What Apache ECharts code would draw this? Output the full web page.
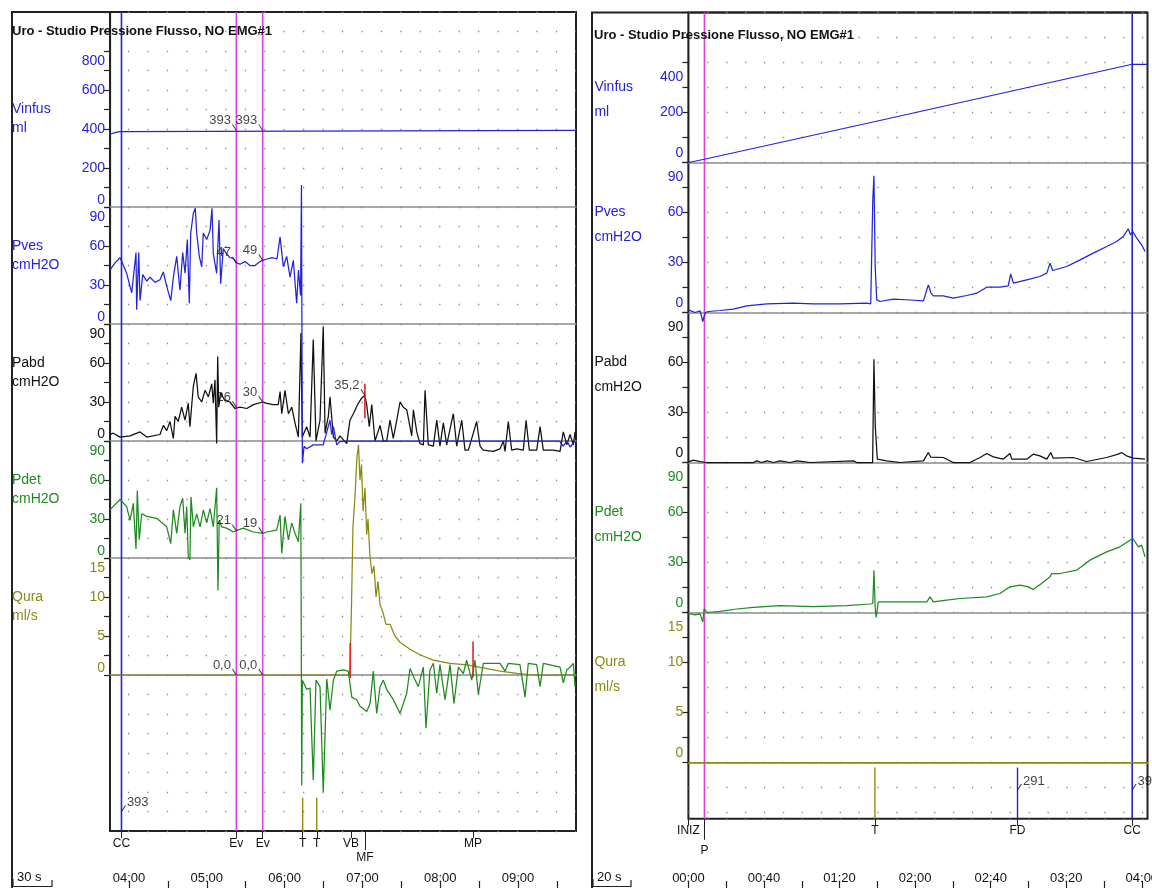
<!DOCTYPE html>
<html><head><meta charset="utf-8">
<script src="https://cdn.jsdelivr.net/npm/echarts@6/dist/echarts.min.js"></script>
<style>html,body{margin:0;padding:0;background:#fff}#c{width:1152px;height:888px}</style>
</head><body><div id="c"></div>
<script>
// ---------------- DATA ----------------
const titleText = 'Uro - Studio Pressione Flusso, NO EMG#1';
const channelNames = ['Vinfus\nml', 'Pves\ncmH2O', 'Pabd\ncmH2O', 'Pdet\ncmH2O', 'Qura\nml/s'];

// Left panel (time in seconds)
const L_vinfus = [[225.3,373],[229.2,381],[232.5,386],[233.6,393],[584.7,393]];
const L_pves = [[225.3,41.5],[229.2,47],[233.1,51],[234.4,48],[238.2,39],[242.1,24],[245.4,55],[245.9,11],[247.5,55],[248.5,18],[250.6,38],[253.7,33],[256.2,36],[260.1,32],[263.9,34],[266.5,40],[269.1,29],[272.2,18],[274.2,36],[276.8,52],[279.3,26],[281.4,55],[283.2,39],[285,65],[286.5,16],[287.6,70],[289.6,85],[291.1,89],[292.2,70],[294.2,52],[296.1,44],[297.3,70],[299.9,65],[302.5,72],[304,89],[305,54],[307.6,39],[309.4,80],[310.7,31],[312.7,58],[315.3,54],[317.9,51],[320.4,50.5],[322.8,47],[325.6,46],[329.5,48],[333.3,45],[337.2,45],[341,48],[343.1,49],[346.4,50],[350.3,51],[354.1,50],[356.5,67],[359,44],[361.6,52],[364.2,36],[366.7,49],[369.3,16],[370.7,41.5],[372.3,22],[373,107],[373.7,-107],[375,-94],[377,-96],[382.1,-93],[389.8,-93],[395,-74],[396.3,-85],[397.6,-79],[400.2,-93],[402.7,-90.5],[407.9,-90],[572,-90],[574.7,-94],[577.8,-90],[580.1,-94.6],[584,-90]];
const L_pabd = [[225.3,5],[227.9,6],[233.1,3],[234.4,3],[240.8,4],[248.5,7],[253.7,3],[263.9,5],[266.5,12],[269.1,8],[271.6,15],[274.2,2],[275.5,19],[278,15],[280.6,26],[283.2,16],[285.7,29],[287,11],[289.6,42],[291.7,52],[293.4,34],[296.1,30],[298.6,39],[301.2,34],[303.8,44],[305,29],[306.3,47],[307.6,-2],[308.4,65],[309.2,26],[310.7,37],[314,31],[317.9,30],[321.7,25],[322.8,26],[325.6,26],[330.8,25],[335.9,28],[343.1,30],[346.2,29],[351.3,28],[355.1,28],[356.5,38],[357.8,21],[360.3,39],[362.9,21],[365.5,26],[368,14],[370.6,3],[372.6,83],[373.6,3],[377,11],[379.6,3],[382.1,78],[384.2,0],[387.3,16],[389.8,88],[391.2,6],[393.7,19],[395,34],[397.6,3],[400.2,0],[402.7,4],[407.9,-2],[410.4,16],[413,21],[416.8,29],[419.4,33],[421.9,35],[423.3,28],[425.3,11],[427.2,28],[429.7,0],[433.6,12],[436.1,0],[438.7,0],[441.3,16],[443.8,2],[446.5,16],[449,30],[451.5,26],[454.2,24],[458,4],[459.3,24],[461.9,7],[464.4,-2],[467,-3],[468.3,39],[470.8,-3],[474.7,-4],[477.3,16],[479.8,-4],[482.4,14],[485,-3],[490.1,21],[492.7,-4],[496.6,16],[499.1,-7],[501.7,-7],[508.1,15],[510.7,-4],[513.2,-7],[520.9,-8],[526.1,-6],[528.7,0],[530,-8],[532.5,15],[535.1,-7],[539,-6],[544.1,-7],[546.2,16],[548.7,-7],[554.4,-7],[557,11],[559.5,-7],[567.2,-7],[572.4,-8],[574.9,7],[577.6,-3],[580.1,5],[582.6,-3],[584,7]];
const L_pdet = [[225.3,37],[233.1,45],[234.4,45],[238.2,39.5],[240.8,29],[243.3,42],[245.4,7],[246.4,52],[247.9,14],[249.8,34],[253.7,32],[261.4,30.5],[269.1,24],[272.2,11],[274.2,37],[276.8,19],[279.3,39.5],[281.4,46],[283.2,19],[284.5,39.5],[285.7,1],[287,-1.5],[287.8,47],[289.6,24],[292.2,34],[294.8,24],[297.3,37],[299.9,27],[302.5,38],[305,24],[307.6,54],[308.6,-25],[309.6,29],[311.5,24],[315.3,23],[320.4,20],[322.8,21],[328.1,23],[335.9,20],[343.1,19],[346.2,20],[353.9,21.5],[356.5,33],[357.8,3.6],[360.3,32],[362.9,14],[365.5,27],[368,19],[370.6,12.5],[372.5,42],[373.2,-175],[373.7,-94],[377,-101],[379.6,-100],[382.1,-171],[384.2,-94],[387.3,-99],[389.8,-180],[392.5,-93],[395,-117],[397.6,-94],[400.2,-87],[405.3,-86],[409.1,-87],[411.8,-107],[415.6,-109],[418.1,-114],[423.3,-118],[425.9,-112],[428.4,-87],[431,-119.5],[433.6,-99],[436.1,-94],[438.7,-101],[443.8,-109],[449,-119.5],[454.2,-104],[456.7,-85],[459.3,-91],[463.1,-99],[467,-84],[469,-131],[472.1,-86],[474.7,-81],[477.3,-104],[479.8,-82],[483.7,-109],[487.6,-82],[490.6,-112],[494,-84],[497.8,-89],[500.4,-78.5],[504.3,-94],[506.8,-78.5],[509.4,-105],[513.2,-81],[526.1,-81],[530,-87],[532.5,-81],[541.5,-82],[545.4,-107],[547.9,-81],[554.4,-82],[557,-99],[559.5,-81],[572.4,-84],[574.9,-96],[577.6,-86],[580.1,-84],[582.6,-81],[584,-99]];
const L_qura = [[225.3,0],[409.7,0],[410.4,0.5],[411.6,9],[412.7,19],[414.3,23],[415.8,28],[417,29.5],[418.1,25],[419.3,27],[420.5,21],[422,24],[423.3,18],[424.3,20],[425.9,15],[427.4,13],[428.9,14],[430.5,10],[432,12],[433.6,9],[435.9,8],[438.2,6.5],[441.3,6.5],[445.1,5],[449,4.2],[456.7,3.3],[464.4,2.6],[474.4,1.9],[487.6,1.5],[500.7,1.3],[513,0.9],[526.1,0.5],[539.2,0.2],[551.6,0],[584.7,0]];

const L_evTimes = [234.2, 322.8, 343.1, 373.9, 384.8, 411.2, 505.3];
const L_evNames = ['CC', 'Ev', 'Ev', 'T', 'T', 'VB', 'MP'];
const L_evLowTimes = [421.9];
const L_evLowNames = ['MF'];
const L_timeTicks = [240,270,300,330,360,390,420,450,480,510,540,570];
const L_timeLabels = [240,300,360,420,480,540];
// annotations at the two "Evento Generico" events
const L_annTimes = [322.8, 343.1];
const L_annVinfus = [393, 393];
const L_annPves = [47, 49];
const L_annPabd = [26, 30];
const L_annPdet = [21, 19];
const L_annQura = [0.0, 0.0];
const L_mfPabd = [421.9, 35.2];
const L_ccVinfus = [234.2, 393];
const L_redQura = [[410.6, 4.1, -0.4], [505.3, 4.3, -0.3]];
const L_redPabd = [[421.9, 44, 17.5]];

// Right panel
const R_vinfus = [[0,0],[8.4,13],[101.3,168],[174.2,291],[234.9,393],[243,393]];
const R_pves = [[0,1.6],[3.5,0],[6.2,1],[7.6,-5.4],[8.9,0],[10.6,0.6],[16.8,1.2],[23.8,2],[30.9,4],[41.5,5.2],[55.5,5.6],[66.1,5.2],[80.3,5.2],[94.4,5.6],[96.5,5.2],[97.6,67.6],[98.2,82],[98.9,26.6],[99.7,7.6],[101.4,6.6],[108.5,8],[117.3,7.5],[124.4,7],[127,16.6],[128.3,12],[129.6,10],[134.9,10],[140.2,8.6],[147.3,10.2],[152.6,11.6],[157.9,15.2],[164.9,15.2],[169.3,16],[170.6,23.2],[172,17.6],[179.1,19.6],[186,21.6],[189.7,23.6],[191.4,29.6],[192.8,25.2],[200.2,27.6],[207.3,31.6],[214.3,35.6],[221.4,39.6],[226.7,42.6],[230.1,45.6],[232.8,50.2],[234,46.6],[235.2,48.6],[237.3,44.6],[239.9,40.6],[241.7,36.6]];
const R_pabd = [[0,0.4],[2.6,1.4],[6.2,0.5],[9.8,0],[34.4,0],[36.2,1],[38.8,0],[41.5,1],[45,0],[48.5,1],[53.8,0],[57.4,1],[60.9,0.5],[64.4,0],[87.3,1],[89.1,0],[97.5,0],[98.2,62],[98.9,22],[100,2],[104.9,1],[112,0],[124.4,1],[127,6],[128.3,3.2],[134.9,3],[140.2,0],[149,0],[154.4,3],[157.9,5.4],[161.4,3.4],[166.6,2],[170.2,5.4],[171.2,2],[179.1,2],[182.5,5],[186,4],[189.7,2],[191.8,6],[193.1,2.6],[203.6,3],[210.8,0.6],[221.4,3],[227.5,5],[229.3,6],[231.9,4],[235.5,2.6],[241.7,2]];
const R_pdet = [[0,-0.6],[3.5,-1.4],[6.2,-0.8],[7.6,-5.6],[8.4,2.4],[9.8,0],[16.8,0.7],[25.7,2.1],[34.4,3.1],[48.5,4.1],[66.1,3.5],[83.8,4.1],[96.2,5.1],[97.6,5.4],[98.2,25.4],[98.9,2.4],[99.4,-3],[100.5,6.4],[108.5,6.4],[115.5,6.4],[126.2,6.4],[127.9,9.4],[129.6,6.4],[136.7,7.4],[143.8,8.4],[157.9,9.4],[158.8,8.4],[164.9,11.4],[170.2,15.4],[175.5,16.4],[179.9,15.4],[182.5,13.8],[186.9,17.4],[191.4,21.4],[192.3,23.4],[196.7,23.4],[205.5,25.4],[212.5,31.4],[221.4,36.4],[228.4,39.4],[235.2,44.4],[236.4,42.4],[238.2,39.4],[239.9,40.4],[241.7,33.4]];
const R_qura = [[0,0],[243,0]];

const R_evTimes = [0, 98.7, 174.2, 234.9];
const R_evNames = ['INIZ', 'T', 'FD', 'CC'];
const R_evLowTimes = [8.5];
const R_evLowNames = ['P'];
const R_timeTicks = [0,20,40,60,80,100,120,140,160,180,200,220,240];
const R_timeLabels = [0,40,80,120,160,200,240];
const R_fdVinfus = [174.2, 291];
const R_ccVinfus = [234.9, 393];

// ---------------- STYLE / LAYOUT ----------------
const FONT = '"Liberation Sans", Arial, sans-serif';
const C_BLUE = '#2222dd', C_BLACK = '#111111', C_GREEN = '#1e8a1e', C_OLIVE = '#8a8a12';
const C_MAG = '#e040e0', C_RED = '#e82020', C_GRAY = '#8c8c8c', C_FRAME = '#222222';
const chColors = [C_BLUE, C_BLUE, C_BLACK, C_GREEN, C_OLIVE];

function mmss(s) {
  const m = Math.floor(s / 60 + 1e-9), r = Math.round(s - m * 60);
  return String(m).padStart(2, '0') + ':' + String(r).padStart(2, '0');
}
function near(arr, v) { return arr.findIndex(e => Math.abs(e - v) < 0.01); }

const option = {
  animation: false,
  backgroundColor: '#ffffff',
  textStyle: { fontFamily: FONT },
  title: [], grid: [], xAxis: [], yAxis: [], series: [], graphic: []
};

// a vertical segment drawn as a 2-point line series through the axes
function segment(xi, yi, t, a, b, color, width, z) {
  return { type: 'line', xAxisIndex: xi, yAxisIndex: yi, data: [[t, a], [t, b]], symbol: 'none',
    clip: false, silent: true, z: z, lineStyle: { color: color, width: width } };
}
const hiddenY = g => ({ type: 'value', gridIndex: g, min: 0, max: 1, show: false,
  axisLine: { show: false, onZero: false }, axisTick: { show: false }, axisLabel: { show: false }, splitLine: { show: false } });

function addPanel(cfg) {
  const W = cfg.right - cfg.left;
  const H = cfg.row * cfg.rows;
  const bottomY = cfg.top + H;

  // background grid: frame + dot matrix + event lines
  const g0 = option.grid.length;
  option.grid.push({ left: cfg.left, top: cfg.top, width: W, height: H, show: true, containLabel: false,
    outerBoundsMode: 'none', borderColor: C_FRAME, borderWidth: 2, backgroundColor: 'transparent' });
  const xb = option.xAxis.length;
  option.xAxis.push({ type: 'value', gridIndex: g0, min: cfg.xmin, max: cfg.xmax, show: false,
    axisLine: { show: false, onZero: false }, axisTick: { show: false }, axisLabel: { show: false }, splitLine: { show: false } });
  const yb = option.yAxis.length;
  option.yAxis.push({ type: 'value', gridIndex: g0, inverse: true, min: 0, max: cfg.rows, interval: 1,
    axisLine: { show: false, onZero: false }, axisTick: { show: false }, axisLabel: { show: false },
    splitLine: { show: true, lineStyle: { type: [1.3, cfg.dotGap - 1.3], dashOffset: cfg.dotOffset, color: '#8a8a8a', width: 1.3 } } });

  // thin grid under the plot carrying the event axes and the time axis
  const ge = option.grid.length;
  option.grid.push({ left: cfg.left, top: bottomY - 1, width: W, height: 1, show: false, containLabel: false, outerBoundsMode: 'none' });
  option.yAxis.push(hiddenY(ge));
  const ye = option.yAxis.length - 1;
  option.xAxis.push({ type: 'value', gridIndex: ge, min: cfg.xmin, max: cfg.xmax, position: 'bottom',
    axisLine: { show: false, onZero: false }, splitLine: { show: false },
    axisTick: { show: true, customValues: cfg.evTimes, length: 7, lineStyle: { color: C_FRAME, width: 1 } },
    axisLabel: { show: true, customValues: cfg.evTimes, margin: cfg.evMargin, fontSize: 12, color: C_BLACK,
      formatter: v => cfg.evNames[near(cfg.evTimes, v)] || '' } });
  option.xAxis.push({ type: 'value', gridIndex: ge, min: cfg.xmin, max: cfg.xmax, position: 'bottom',
    axisLine: { show: false, onZero: false }, splitLine: { show: false },
    axisTick: { show: true, customValues: cfg.evLowTimes, length: cfg.lowTick, lineStyle: { color: C_FRAME, width: 1 } },
    axisLabel: { show: true, customValues: cfg.evLowTimes, margin: cfg.lowMargin, fontSize: 12, color: C_BLACK,
      formatter: v => cfg.evLowNames[near(cfg.evLowTimes, v)] || '' } });
  option.xAxis.push({ type: 'value', gridIndex: ge, min: cfg.xmin, max: cfg.xmax, position: 'bottom',
    offset: 888 - bottomY, axisLine: { show: false, onZero: false }, splitLine: { show: false },
    axisTick: { show: true, inside: true, customValues: cfg.timeTicks, length: 7, lineStyle: { color: C_FRAME, width: 1.2 } },
    axisLabel: { show: true, inside: true, customValues: cfg.timeLabels, margin: 3, fontSize: 13, color: C_BLACK,
      formatter: v => mmss(v) } });
  // a placeholder series so the thin grid's axes are laid out
  option.series.push({ type: 'line', xAxisIndex: option.xAxis.length - 3, yAxisIndex: ye, data: [], symbol: 'none', silent: true });

  // full-height event lines
  cfg.fullLines.forEach(l => option.series.push(segment(xb, yb, l[0], 0, cfg.rows, l[1], 1.6, 2)));
  // short event lines in the marker strip
  cfg.partLines.forEach(l => option.series.push(segment(xb, yb, l[0], l[2], cfg.rows, l[1], 1.4, 2)));
  // bottom annotations
  option.series.push({ type: 'scatter', xAxisIndex: xb, yAxisIndex: yb, clip: false, silent: true, z: 5,
    symbol: 'path://M0,6L4,0', symbolSize: [4, 6], symbolOffset: [2, -3],
    itemStyle: { color: 'rgba(0,0,0,0)', borderColor: C_BLACK, borderWidth: 1 },
    label: { show: true, position: 'right', distance: 1, offset: [0, -6], fontSize: 13, color: C_BLACK,
      formatter: p => String(p.data.txt) },
    data: cfg.bottomAnn.map(a => ({ value: [a[0], a[2]], txt: a[1] })) });

  // channels
  let acc = 0;
  for (let i = 0; i < 5; i++) {
    const gi = option.grid.length;
    const top = cfg.top + acc * cfg.row;
    option.grid.push({ left: cfg.left, top: top, width: W, height: cfg.bands[i] * cfg.row, show: false,
      containLabel: false, outerBoundsMode: 'none' });
    acc += cfg.bands[i];
    const xi = option.xAxis.length;
    option.xAxis.push({ type: 'value', gridIndex: gi, min: cfg.xmin, max: cfg.xmax, position: 'bottom',
      axisLine: { show: true, onZero: false, lineStyle: { color: C_GRAY, width: 1.6 } },
      axisTick: { show: false }, axisLabel: { show: false }, splitLine: { show: false } });
    const yi = option.yAxis.length;
    const labs = cfg.chLabels[i];
    const col = chColors[i];
    option.yAxis.push({ type: 'value', gridIndex: gi, min: 0, max: cfg.chMax[i], interval: cfg.chInt[i], position: 'left',
      axisLine: { show: true, onZero: false, lineStyle: { color: C_FRAME, width: 1.2 } },
      axisTick: { show: true, length: 6, lineStyle: { color: C_FRAME, width: 1.2 } },
      splitLine: { show: false },
      axisLabel: { show: true, customValues: labs, margin: 5, fontSize: 14, color: col,
        formatter: v => (v === labs[labs.length - 1] ? '{dn|' + v + '}' : (v === 0 ? '{up|0}' : String(v))),
        rich: { dn: { padding: [cfg.dnPad, 0, 0, 0], fontSize: 14, color: col },
                up: { padding: [0, 0, cfg.upPad, 0], fontSize: 14, color: col } } },
      name: i === 0 ? '\n' + channelNames[i] : channelNames[i] + '\n',
      nameLocation: 'middle', nameRotate: 0, nameGap: cfg.nameGap,
      nameTextStyle: { align: 'left', verticalAlign: 'middle', fontSize: 14, color: col, lineHeight: cfg.nameLH } });
    option.series.push({ type: 'line', xAxisIndex: xi, yAxisIndex: yi, data: cfg.series[i], symbol: 'none',
      clip: false, silent: true, z: cfg.seriesZ[i], lineStyle: { color: col, width: 1.25 } });
    const reds = cfg.reds[i];
    if (reds) reds.forEach(r => option.series.push(segment(xi, yi, r[0], r[1], r[2], C_RED, 1.6, 5)));
    const anns = cfg.anns[i];
    if (anns && anns.length) {
      option.series.push({ type: 'scatter', xAxisIndex: xi, yAxisIndex: yi, clip: false, silent: true, z: 6,
        symbol: 'path://M0,0L4,6', symbolSize: [4, 6], symbolOffset: [-2, -3],
        itemStyle: { color: 'rgba(0,0,0,0)', borderColor: C_BLACK, borderWidth: 1 },
        label: { show: true, position: 'left', distance: 1, offset: [0, -7], fontSize: 13, color: C_BLACK,
          formatter: p => p.data.txt },
        data: anns.map(a => ({ value: [a[0], a[1]], txt: a[2] })) });
    }
  }
  option.title.push({ text: titleText, left: cfg.titleLeft, top: cfg.titleTop, padding: 0,
    textStyle: { fontSize: 13, fontWeight: 'bold', color: C_BLACK, fontFamily: FONT } });
}

function ann(times, vals, dec) {
  return times.map((t, k) => [t, vals[k], dec ? vals[k].toFixed(dec).replace('.', ',') : String(vals[k])]);
}

addPanel({
  left: 110, right: 576, top: 12, row: 19.5, rows: 42, bands: [10, 6, 6, 6, 6],
  xmin: 225.35, xmax: 584.7, dotGap: 19.45, dotOffset: 1.5,
  evTimes: L_evTimes, evNames: L_evNames, evLowTimes: L_evLowTimes, evLowNames: L_evLowNames,
  evMargin: 7, lowTick: 19, lowMargin: 21,
  timeTicks: L_timeTicks, timeLabels: L_timeLabels,
  fullLines: [[L_evTimes[0], C_BLUE], [L_evTimes[1], C_MAG], [L_evTimes[2], C_MAG]],
  partLines: [[L_evTimes[3], C_OLIVE, 40.3], [L_evTimes[4], C_OLIVE, 40.3]],
  bottomAnn: [[L_ccVinfus[0], String(L_ccVinfus[1]), 41.0]],
  chMax: [1000, 90, 90, 90, 15], chInt: [100, 15, 15, 15, 2.5],
  chLabels: [[0, 200, 400, 600, 800], [0, 30, 60, 90], [0, 30, 60, 90], [0, 30, 60, 90], [0, 5, 10, 15]],
  dnPad: 20, upPad: 14, nameGap: 98, nameLH: 19,
  series: [L_vinfus, L_pves, L_pabd, L_pdet, L_qura], seriesZ: [3, 4, 3, 4, 3],
  reds: [null, null, L_redPabd, null, L_redQura],
  anns: [ann(L_annTimes, L_annVinfus, 0), ann(L_annTimes, L_annPves, 0),
         ann(L_annTimes, L_annPabd, 0).concat([[L_mfPabd[0], L_mfPabd[1], L_mfPabd[1].toFixed(1).replace('.', ',')]]),
         ann(L_annTimes, L_annPdet, 0), ann(L_annTimes, L_annQura, 1)],
  titleLeft: 12, titleTop: 25
});

addPanel({
  left: 688.4, right: 1147.5, top: 12.5, row: 25, rows: 32.25, bands: [6, 6, 6, 6, 6],
  xmin: 0, xmax: 243, dotGap: 18.9, dotOffset: 0,
  evTimes: R_evTimes, evNames: R_evNames, evLowTimes: R_evLowTimes, evLowNames: R_evLowNames,
  evMargin: 6, lowTick: 21, lowMargin: 26,
  timeTicks: R_timeTicks, timeLabels: R_timeLabels,
  fullLines: [[R_evLowTimes[0], C_MAG], [R_evTimes[3], C_BLUE]],
  partLines: [[R_evTimes[1], C_OLIVE, 30.2], [R_evTimes[2], C_BLUE, 30.2]],
  bottomAnn: [[R_fdVinfus[0], String(R_fdVinfus[1]), 31.1], [R_ccVinfus[0], String(R_ccVinfus[1]), 31.1]],
  chMax: [600, 90, 90, 90, 15], chInt: [100, 15, 15, 15, 2.5],
  chLabels: [[0, 200, 400], [0, 30, 60, 90], [0, 30, 60, 90], [0, 30, 60, 90], [0, 5, 10, 15]],
  dnPad: 30, upPad: 18, nameGap: 94, nameLH: 25,
  series: [R_vinfus, R_pves, R_pabd, R_pdet, R_qura], seriesZ: [3, 3, 3, 3, 3],
  reds: [null, null, null, null, null],
  anns: [null, null, null, null, null],
  titleLeft: 594, titleTop: 29
});

// frames and scale bars (decoration)
const frameStyle = { stroke: C_FRAME, lineWidth: 2, fill: null };
option.graphic = [
  { type: 'polyline', silent: true, shape: { points: [[12, 890], [12, 12], [576, 12]] }, style: frameStyle },
  { type: 'polyline', silent: true, shape: { points: [[592, 890], [592, 12.5], [1147.5, 12.5]] }, style: frameStyle },
  { type: 'polyline', silent: true, shape: { points: [[13, 879], [13, 886.5], [52, 886.5], [52, 880]] }, style: { stroke: C_FRAME, lineWidth: 1.2, fill: null } },
  { type: 'text', silent: true, left: 17, top: 871, style: { text: '30 s', font: '13px ' + FONT, fill: C_BLACK } },
  { type: 'polyline', silent: true, shape: { points: [[593, 879], [593, 886.5], [631, 886.5], [631, 880]] }, style: { stroke: C_FRAME, lineWidth: 1.2, fill: null } },
  { type: 'text', silent: true, left: 597, top: 871, style: { text: '20 s', font: '13px ' + FONT, fill: C_BLACK } }
];

const chart = echarts.init(document.getElementById('c'), null, { renderer: 'canvas' });
chart.setOption(option);
</script>
</body></html>
